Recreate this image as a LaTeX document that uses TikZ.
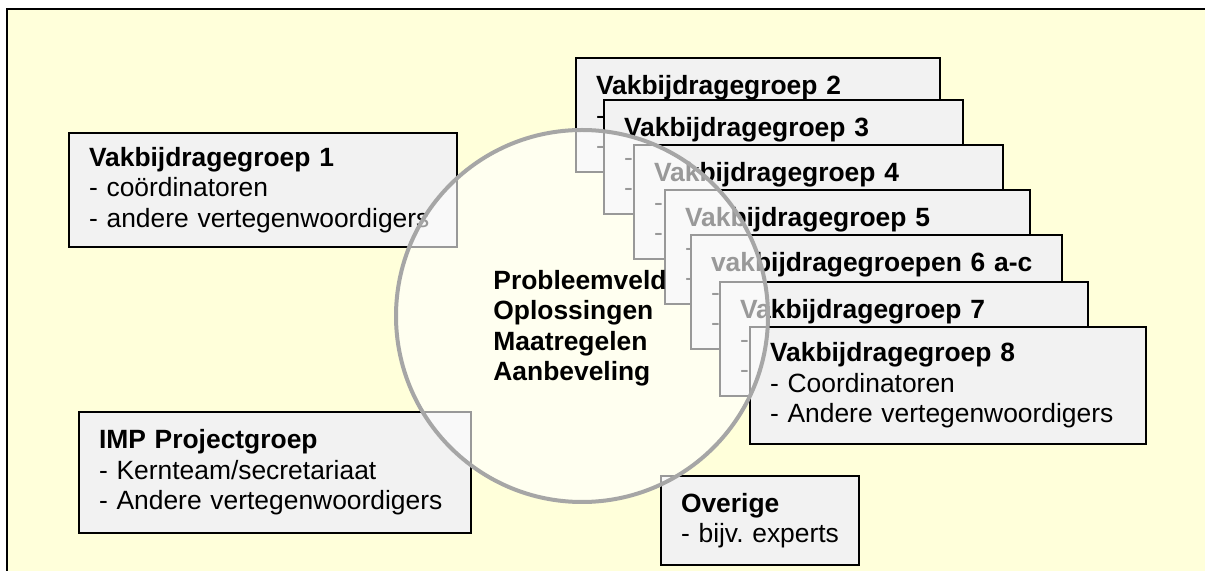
\documentclass[tikz,border=0pt]{standalone}
\usepackage{fontspec}
\setmainfont{Liberation Sans}
\frenchspacing

\definecolor{paneyellow}{HTML}{FFFFDA}
\definecolor{boxgray}{HTML}{F2F2F2}
\definecolor{ringgray}{HTML}{A6A6A6}

\tikzset{
  groupbox/.style={draw=black, line width=1pt, fill=boxgray, anchor=north west,
    align=left, inner xsep=10pt, inner ysep=0pt,
    font=\fontsize{13.2}{15.2}\selectfont},
}

\begin{document}
\begin{tikzpicture}[x=0.5pt,y=-0.5pt]
\useasboundingbox (0,0) rectangle (1205,571);

% pane
\fill[paneyellow] (7,9) rectangle (1205,571);
\draw[line width=1pt] (7,571) -- (7,9) -- (1205,9);

% groups on the left and below
\node[groupbox, text width=174pt, minimum height=57pt] (g1) at (68,132)
  {\textbf{Vakbijdragegroep 1}\\- coördinatoren\\- andere vertegenwoordigers};
\node[groupbox, text width=176pt, minimum height=60.5pt] (imp) at (78,411)
  {\textbf{IMP Projectgroep}\\- Kernteam/secretariaat\\- Andere vertegenwoordigers};
\node[groupbox, text width=79pt, minimum height=44.5pt] (rest) at (660,475)
  {\textbf{Overige}\\- bijv. experts};

% stacked groups
\foreach \n/\x/\y/\tw/\title in {2/575/57/162/Vakbijdragegroep 2,
    3/603/99/159.5/Vakbijdragegroep 3, 4/633/144/164.5/Vakbijdragegroep 4,
    5/664/189/162.5/Vakbijdragegroep 5, 6/690/234/165.5/vakbijdragegroepen 6 a-c,
    7/719/281/164/Vakbijdragegroep 7}
  \node[groupbox, text width=\tw pt, minimum height=57pt] (g\n) at (\x,\y)
    {\textbf{\title}\\-\\-};
\node[groupbox, text width=178pt, minimum height=58.5pt] (g8) at (749,326)
  {\textbf{Vakbijdragegroep 8}\\- Coordinatoren\\- Andere vertegenwoordigers};

% field in the middle
\node[circle, draw=ringgray, line width=2pt, fill=white, fill opacity=0.6,
  minimum size=186pt, inner sep=0pt] (field) at (582,316) {};
\node[anchor=west, align=left, inner sep=0pt,
  font=\fontsize{13.2}{15.25}\selectfont\bfseries] (topics) at (493,328)
  {Probleemveld\\Oplossingen\\Maatregelen\\Aanbeveling};

\end{tikzpicture}
\end{document}
